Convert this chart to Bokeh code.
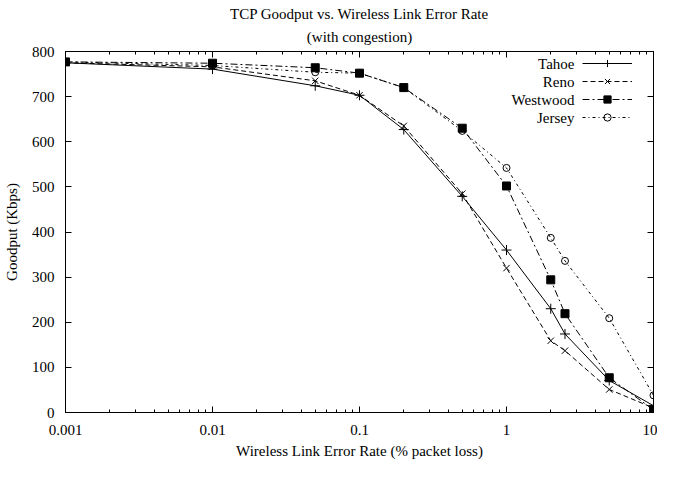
from bokeh.plotting import figure
from bokeh.models import LinearAxis, LogAxis, FixedTicker, Title, Legend, LegendItem, Label
from bokeh.embed import file_html
from bokeh.resources import INLINE

# ---- data ----
error_rate = [0.001, 0.01, 0.05, 0.1, 0.2, 0.5, 1, 2, 2.5, 5, 10]
tahoe = [775, 761, 724, 703, 627, 479, 360, 230, 174, 71, 15]
reno = [775, 766, 735, 703, 635, 485, 320, 159, 137, 51, 10]
westwood = [777, 774, 764, 752, 720, 630, 502, 294, 219, 77, 6]
jersey = [777, 769, 754, 752, 720, 624, 542, 387, 336, 209, 38]
series_names = ["Tahoe", "Reno", "Westwood", "Jersey"]
x_ticks = [0.001, 0.01, 0.1, 1, 10]
x_tick_labels = ["0.001", "0.01", "0.1", "1", "10"]
y_ticks = [0, 100, 200, 300, 400, 500, 600, 700, 800]
y_tick_labels = ["0", "100", "200", "300", "400", "500", "600", "700", "800"]
title_lines = ["TCP Goodput vs. Wireless Link Error Rate", "(with congestion)"]

FONT = "Liberation Serif"
FS = "15px"

W, H = 657, 461
BL, BR, BT, BB = 65, 4, 51, 49

minor = [k * 10.0 ** d for d in range(-3, 1) for k in range(2, 10)]

p = figure(width=W, height=H, x_axis_type="log", x_range=(0.001, 10), y_range=(0, 800),
           output_backend="svg", toolbar_location=None, title=None,
           min_border_left=BL, min_border_right=BR, min_border_top=BT, min_border_bottom=BB)
p.background_fill_color = "white"
p.border_fill_color = "white"
p.outline_line_color = "black"
p.outline_line_width = 1
p.grid.visible = False

def style_axis(ax):
    ax.axis_line_color = "black"
    ax.major_tick_line_color = "black"
    ax.minor_tick_line_color = "black"
    ax.major_tick_in = 6
    ax.major_tick_out = 0
    ax.minor_tick_in = 3
    ax.minor_tick_out = 0
    ax.major_label_text_font = FONT
    ax.major_label_text_font_size = FS
    ax.major_label_text_color = "black"
    ax.axis_label_text_font = FONT
    ax.axis_label_text_font_size = FS
    ax.axis_label_text_font_style = "normal"
    ax.axis_label_text_color = "black"

xa = p.xaxis[0]
style_axis(xa)
xa.ticker = FixedTicker(ticks=x_ticks, minor_ticks=minor)
xa.major_label_overrides = dict(zip(x_ticks, x_tick_labels))
xa.axis_label = "Wireless Link Error Rate (% packet loss)"
xa.major_label_standoff = 12
xa.axis_label_standoff = 5

ya = p.yaxis[0]
style_axis(ya)
ya.ticker = FixedTicker(ticks=y_ticks, minor_ticks=[])
ya.major_label_overrides = dict(zip(y_ticks, y_tick_labels))
ya.axis_label = "Goodput (Kbps)"
ya.major_label_standoff = 11
ya.axis_label_standoff = 9

# mirrored ticks (top/right), no labels
top = LogAxis(ticker=FixedTicker(ticks=x_ticks, minor_ticks=minor))
style_axis(top)
top.major_label_overrides = {t: "" for t in x_ticks}
top.major_label_standoff = 0
top.major_label_text_font_size = "0px"
p.add_layout(top, "above")

right = LinearAxis(ticker=FixedTicker(ticks=y_ticks, minor_ticks=[]))
style_axis(right)
right.major_label_overrides = {t: "" for t in y_ticks}
right.major_label_standoff = 0
right.major_label_text_font_size = "0px"
p.add_layout(right, "right")

# title lines: first added sits closest to the frame
p.add_layout(Title(text=title_lines[1], align="center", text_font=FONT, text_font_size=FS,
                   text_font_style="normal", text_color="black", standoff=14), "above")
p.add_layout(Title(text=title_lines[0], align="center", text_font=FONT, text_font_size=FS,
                   text_font_style="normal", text_color="black", standoff=-4), "above")

dashes = ["solid", "5 3", "7 3 2 3", "3 3 1 3"]
markers = ["cross", "x", "square", "circle"]
sizes = [10, 9, 8, 7]
fills = ["black", "black", "black", None]
data = [tahoe, reno, westwood, jersey]

items = []
for name, ys, dash, mk, sz, fc in zip(series_names, data, dashes, markers, sizes, fills):
    lr = p.line(error_rate, ys, line_color="black", line_width=1, line_dash=dash)
    sr = p.scatter(error_rate, ys, marker=mk, size=sz, line_color="black", line_width=1,
                   fill_color=fc if fc else "white", fill_alpha=1 if fc else 0)
    items.append(LegendItem(label="", renderers=[lr, sr]))

# gnuplot-style key: samples at right, names right-aligned to their left
LEG_MARGIN, LEG_PAD_R, GLYPH_W, ROW_H = 3, 18, 50, 18
legend = Legend(items=items, location="top_right", border_line_color=None, background_fill_alpha=0,
                padding=0, margin=LEG_MARGIN, spacing=0, glyph_width=GLYPH_W, glyph_height=ROW_H,
                label_height=ROW_H, label_standoff=0, label_width=LEG_PAD_R,
                label_text_font=FONT, label_text_font_size=FS)
p.add_layout(legend, "center")

frame_w = W - BL - BR
frame_h = H - BT - BB
for i, name in enumerate(series_names):
    p.add_layout(Label(x=frame_w - LEG_MARGIN - LEG_PAD_R - GLYPH_W - 8,
                       y=frame_h - LEG_MARGIN - ROW_H * i - ROW_H / 2,
                       x_units="screen", y_units="screen", text=name, text_align="right",
                       text_baseline="middle", text_font=FONT, text_font_size=FS,
                       text_color="black"))

open("out.html", "w").write(file_html(p, INLINE))
